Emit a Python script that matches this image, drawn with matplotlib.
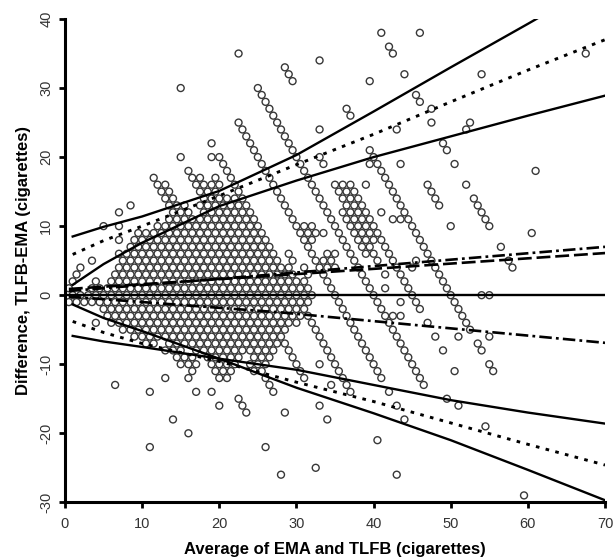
import numpy as np
import matplotlib
matplotlib.use("Agg")
import matplotlib.pyplot as plt

plt.rcParams['font.family'] = ['Liberation Sans', 'DejaVu Sans']
plt.rcParams['lines.scale_dashes'] = False
plt.rcParams['axes.unicode_minus'] = False

# ---------------- data ----------------
# dense block: diff value -> runs of "average" values (step 1)
row_runs = {
    18: [(16, 16)],
    17: [(11.5, 11.5), (16.5, 17.5), (19.5, 19.5)],
    16: [(12, 13), (17, 20)],
    15: [(12.5, 12.5), (17.5, 19.5)],
    14: [(13, 13), (18, 22)],
    13: [(13.5, 13.5), (15.5, 15.5), (17.5, 22.5)],
    12: [(14, 16), (18, 23)],
    11: [(13.5, 23.5)],
    10: [(12, 24)],
    9: [(9.5, 24.5)],
    8: [(9, 25)],
    7: [(8.5, 26.5)],
    6: [(7, 27), (29, 29)],
    5: [(7.5, 27.5), (29.5, 29.5)],
    4: [(7, 29), (31, 31)],
    3: [(6.5, 29.5), (31.5, 31.5)],
    2: [(6, 31)],
    1: [(3.5, 31.5)],
    0: [(1, 32)],
    -1: [(2.5, 31.5)],
    -2: [(5, 31)],
    -3: [(5.5, 30.5)],
    -4: [(6, 30)],
    -5: [(7.5, 28.5)],
    -6: [(9, 28)],
    -7: [(10.5, 11.5), (13.5, 27.5)],
    -8: [(13, 15), (17, 27)],
    -9: [(14.5, 16.5), (18.5, 22.5), (24.5, 26.5)],
    -10: [(15, 17), (19, 22), (24, 26)],
    -11: [(16.5, 16.5), (19.5, 21.5), (24.5, 25.5)],
    -12: [(20, 21)],
}

# heaped TLFB values: TLFB value and range of EMA values reported with it
streak_tlfb = [20, 21, 25, 30, 35, 40, 42, 43, 44, 45, 50, 55, 60]
streak_ema_lo = [3, 5, 7, 10, 10, 10, 30, 27, 28, 29, 29, 39, 46]
streak_ema_hi = [34, 10, 37, 44, 47, 53, 36, 38, 36, 47, 55, 42, 50]

# isolated points (average, difference)
extra_avg = [
    15, 22.5, 15, 19, 19, 20, 28.5, 29, 29.5, 33, 33, 36.5, 37, 39.5, 41, 46, 42, 42.5,
    44, 45.5, 46, 47.5, 47.5, 43, 52.5, 52, 49, 49.5, 50.5, 54, 61, 67.5, 43.5, 33.5,
    33, 52, 53, 53.5, 54, 54.5, 55, 50, 56.5, 57.5, 58, 60.5, 41, 42.5, 43.5, 39, 39.5,
    37, 38, 39, 30, 31, 32, 30.5, 31.5, 32.5, 33.5, 31, 32, 34, 35, 33.5, 34.5, 34, 35,
    2, 3.5, 1.5, 1, 7, 5, 7, 8.5, 7, 4, 0.5, 0.5, 1.5, 4,
    54, 55, 51, 55, 41.5, 41.5, 43.5, 42.5, 43.5, 45, 45.5, 47, 48, 49, 50.5,
    53.5, 54, 55, 55.5,
    49.5, 51, 54.5, 59.5, 43, 44, 42, 37, 34.5, 33, 40.5, 43, 32.5, 33, 34, 31,
    6.5, 11, 13, 16, 14, 16, 11, 17, 19, 20, 22.5, 23, 23.5, 26, 28.5, 28, 26.5, 27,
]
extra_diff = [
    30, 35, 20, 20, 22, 20, 33, 32, 31, 24, 34, 27, 26, 31, 38, 38, 36, 35,
    32, 29, 28, 27, 25, 24, 25, 24, 22, 21, 19, 32, 18, 35, 19, 19,
    20, 16, 14, 13, 12, 11, 10, 10, 7, 5, 4, 9, 12, 11, 11, 16, 19,
    10, 10, 10, 10, 10, 10, 9, 9, 9, 9, 8, 8, 6, 6, 5, 5, 4, 4,
    4, 5, 3, 2, 8, 10, 12, 13, 10, 2, 1, -1, -1, -4,
    0, 0, -6, -6, 3, 1, -1, -3, -3, 4, 5, -4, -6, -8, -11,
    -7, -8, -10, -11,
    -15, -16, -19, -29, -16, -18, -14, -14, -13, -10, -21, -26, -25, -16, -18, -12,
    -13, -14, -12, -12, -18, -20, -22, -14, -14, -16, -15, -16, -17, -22, -17, -26, -13, -14,
]

# reference / limit lines, sampled along the average axis
line_x = [1, 5, 10, 20, 30, 40, 50, 60, 70]
upper_outer = [8.5, 9.9, 11.4, 15.1, 20.3, 26.6, 33.0, 39.3, 45.7]
upper_inner = [1.5, 4.5, 7.6, 12.9, 16.6, 20.0, 23.0, 26.0, 28.9]
upper_dotted = [5.9, 7.9, 10.0, 14.4, 18.9, 23.3, 28.0, 32.6, 37.0]
lower_outer = [-1.35, -3.3, -5.2, -9.2, -13.4, -17.1, -21.0, -25.3, -29.7]
lower_inner = [-5.9, -6.7, -7.5, -9.2, -10.8, -13.0, -15.2, -17.0, -18.6]
lower_dotted = [-3.8, -5.4, -7.0, -9.6, -12.6, -15.4, -18.5, -21.6, -24.6]

mean_x = [0.5, 28, 70]
mean_dash_up = [0.9, 2.9, 6.1]
mean_dashdot_up = [0.6, 3.1, 7.0]
mean_dashdot_low = [-0.2, -2.5, -6.9]

# ---------------- build points ----------------
pts = set()
def add(a, d):
    a2 = int(round(a * 2))
    if (a2 - d) % 2:
        a2 += 1
    pts.add((a2 / 2.0, d))

for d, runs in row_runs.items():
    for a0, a1 in runs:
        a = a0
        while a <= a1 + 1e-9:
            add(a, d)
            a += 1
for T, e0, e1 in zip(streak_tlfb, streak_ema_lo, streak_ema_hi):
    for E in range(e0, e1 + 1):
        add((T + E) / 2.0, T - E)
for a, d in zip(extra_avg, extra_diff):
    add(a, d)

pts = sorted(pts)
px = np.array([p[0] for p in pts])
py = np.array([p[1] for p in pts])

# ---------------- figure ----------------
fig = plt.figure(figsize=(6.13, 5.59), dpi=100)
ax = fig.add_axes([0.106, 0.1014, 0.881, 0.8646])

ax.scatter(px, py, s=25, facecolors='none', edgecolors='#383838',
           linewidths=1.0, zorder=2, clip_on=False)

lw = 1.7
ax.plot([0, 70], [0, 0], color='black', lw=lw, zorder=3)
ax.plot(line_x, upper_outer, color='black', lw=lw, zorder=3)
ax.plot(line_x, upper_inner, color='black', lw=lw, zorder=3)
ax.plot(line_x, lower_outer, color='black', lw=lw, zorder=3)
ax.plot(line_x, lower_inner, color='black', lw=lw, zorder=3)
ax.plot(line_x, upper_dotted, color='black', lw=2.1, zorder=3,
        linestyle=(0, (2.6, 4.6)))
ax.plot(line_x, lower_dotted, color='black', lw=2.1, zorder=3,
        linestyle=(0, (2.6, 4.6)))
ax.plot(mean_x, mean_dash_up, color='black', lw=1.9, zorder=3,
        linestyle=(0, (10, 3.5)))
ax.plot(mean_x, mean_dashdot_up, color='black', lw=1.9, zorder=3,
        linestyle=(0, (9, 3, 2, 3)))
ax.plot(mean_x, mean_dashdot_low, color='black', lw=1.9, zorder=3,
        linestyle=(0, (9, 3, 2, 3)))

ax.set_xlim(0, 70)
ax.set_ylim(-30, 40)
ax.set_xticks(range(0, 71, 10))
ax.set_yticks(range(-30, 41, 10))
for s in ['top', 'right']:
    ax.spines[s].set_visible(False)
for s in ['left', 'bottom']:
    ax.spines[s].set_linewidth(2.2)
ax.tick_params(direction='out', length=4, width=2.0, labelsize=10.5,
               labelcolor='#333333')
ax.tick_params(axis='x', pad=6.5)
ax.tick_params(axis='y', pad=4.5)
for lab in ax.get_yticklabels():
    lab.set_rotation(90)
    lab.set_va('center')

ax.set_xlabel('Average of EMA and TLFB (cigarettes)', fontsize=12,
              fontweight='bold', labelpad=8)
ax.set_ylabel('Difference, TLFB-EMA (cigarettes)', fontsize=12,
              fontweight='bold', labelpad=6)

fig.savefig('out.png', dpi=100)
